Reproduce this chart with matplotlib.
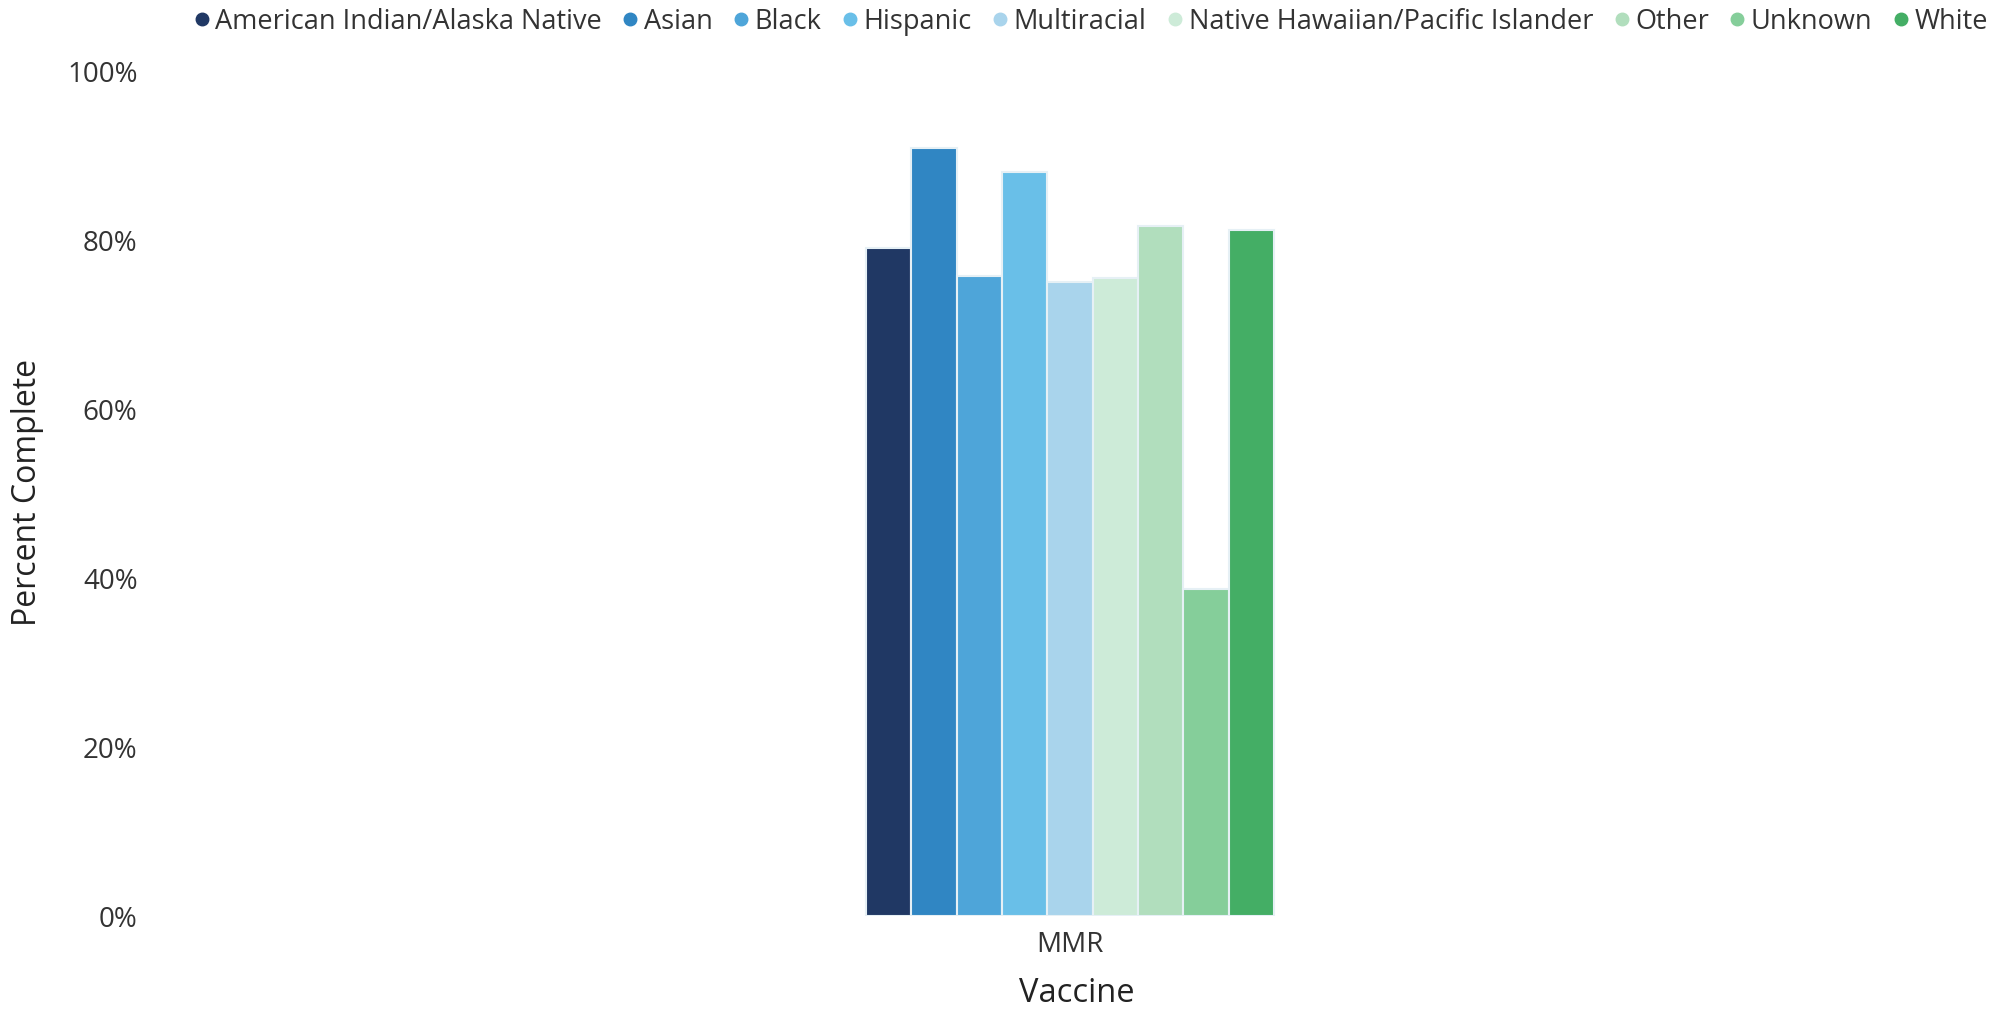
import matplotlib
matplotlib.use("Agg")
import matplotlib.pyplot as plt
from matplotlib.lines import Line2D
import numpy as np

plt.rcParams['font.family'] = ['Open Sans', 'DejaVu Sans']

categories = ["MMR"]
groups = ["American Indian/Alaska Native", "Asian", "Black", "Hispanic", "Multiracial",
          "Native Hawaiian/Pacific Islander", "Other", "Unknown", "White"]
values = [79.0, 90.8, 75.7, 88.0, 75.0, 75.4, 81.6, 38.6, 81.1]
colors = ["#203864", "#3086C3", "#4EA5D9", "#69BFE8", "#A9D4EC",
          "#CDEBD8", "#B1DEBD", "#85CE9A", "#44AE65"]
yticks = [0, 20, 40, 60, 80, 100]
ytick_labels = ["0%", "20%", "40%", "60%", "80%", "100%"]

fig = plt.figure(figsize=(20.03, 10.12), dpi=100)
ax = fig.add_axes([150/2003, 1 - 917/1012, (1990-150)/2003, (917-71)/1012])

n = len(groups)
group_width = 0.222
bw = group_width / n
for i, (g, v, c) in enumerate(zip(groups, values, colors)):
    xpos = -group_width/2 + bw*(i + 0.5)
    ax.bar(xpos, v, width=bw, color=c, edgecolor="#E6F0F5", linewidth=1.5, label=g)

ax.set_xlim(-0.5, 0.5)
ax.set_ylim(0, 100)
ax.set_xticks([0])
ax.set_xticklabels(categories, fontsize=20, color="#333333")
ax.set_yticks(yticks)
ax.set_yticklabels(ytick_labels, fontsize=20, color="#333333")
ax.tick_params(axis='x', length=0, pad=10)
ax.tick_params(axis='y', length=0, pad=9)
for s in ax.spines.values():
    s.set_visible(False)

fig.text(1077/2003, 1 - 994/1012, "Vaccine", fontsize=23.5, color="#222222",
         ha='center', va='center')
fig.text(28/2003, 1 - 493/1012, "Percent Complete", fontsize=23, color="#222222",
         ha='center', va='center', rotation=90)

handles = [Line2D([0], [0], marker='o', linestyle='', markersize=9,
                  markerfacecolor=c, markeredgecolor=c) for c in colors]
fig.legend(handles, groups, loc='upper center', bbox_to_anchor=(1088/2003, 1.016),
           ncol=9, frameon=False, fontsize=19.5, handletextpad=0.0,
           columnspacing=0.55, handlelength=1.0, labelcolor="#333333")

fig.savefig("out.png", dpi=100, facecolor="white")
